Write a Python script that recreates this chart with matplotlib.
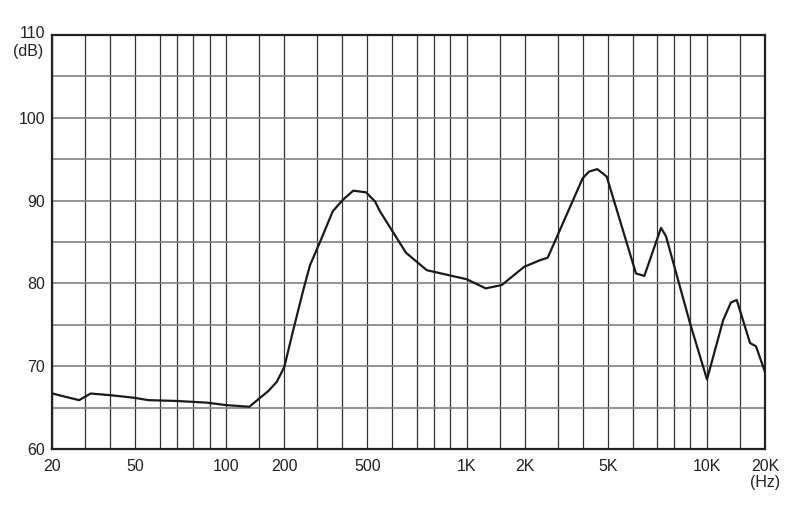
import numpy as np
import matplotlib as mpl
mpl.use('Agg')
import matplotlib.pyplot as plt
from matplotlib.transforms import ScaledTranslation

plt.rcParams['font.family'] = ['Liberation Sans', 'DejaVu Sans']

# response curve (Hz, dB)
freq = [20, 27.8, 31.9, 40, 49.1, 55.0, 70, 87.9, 100, 132.7, 150, 166.4,
        183.3, 200, 223.4, 252.6, 274.3, 309.5, 358.2, 402, 441.3, 494.2,
        529.3, 549.1, 654.8, 757.2, 1000, 1260, 1530, 1980, 2409, 2650, 4000,
        4231, 4557, 4956, 6125, 6453, 7207, 7495, 8980, 10000, 12190, 13390,
        14360, 16800, 18010, 20000]
level = [66.7, 65.9, 66.7, 66.5, 66.2, 65.9, 65.8, 65.6, 65.3, 65.1, 66.1, 67.0,
         68.1, 69.9, 74.4, 79.2, 82.2, 85.0, 88.7, 90.1, 91.2, 91.0,
         89.9, 88.7, 83.7, 81.6, 80.5, 79.4, 79.8, 82.0, 82.8, 83.1, 92.7,
         93.5, 93.8, 92.9, 81.2, 80.9, 86.7, 85.7, 75.2, 68.4, 75.6, 77.7,
         78.0, 72.8, 72.4, 69.3]

# the printed chart uses its own (not strictly logarithmic) grid spacing
grid_f = [20, 30, 40, 50, 60, 70, 80, 90, 100, 150, 200,
          300, 400, 500, 600, 700, 800, 900, 1000, 1500, 2000,
          3000, 4000, 5000, 6000, 7000, 8000, 9000, 10000, 15000, 20000]
grid_px = [52.3, 85.3, 110.3, 135.3, 160.3, 176.7, 193.3, 210, 226.3, 259.3, 284.3,
           317.3, 342.3, 367.3, 392, 416.7, 433.7, 450.3, 466.7, 500, 525,
           557.7, 582.7, 607.7, 632.7, 657.3, 674.3, 690.3, 707, 740.3, 765]
x_labels = {20: '20', 50: '50', 100: '100', 200: '200', 500: '500',
            1000: '1K', 2000: '2K', 5000: '5K', 10000: '10K', 20000: '20K'}

lf = np.log10(grid_f)
pos = np.array(grid_px)


def fwd(f):
    f = np.clip(np.asarray(f, dtype=float), 1e-3, None)
    return np.interp(np.log10(f), lf, pos)


def inv(p):
    return 10 ** np.interp(p, pos, lf)


fig = plt.figure(figsize=(8.12, 5.08), dpi=100)
ax = fig.add_axes([52.3 / 812, 1 - 449 / 508, (765 - 52.3) / 812, (449 - 35) / 508])
ax.set_xscale('function', functions=(fwd, inv))
ax.set_xlim(20, 20000)
ax.set_ylim(60, 110)

fs = 11.5
ax.set_xticks(grid_f)
ax.set_xticklabels([x_labels.get(f, '') for f in grid_f])
ax.xaxis.set_minor_locator(mpl.ticker.NullLocator())
ax.set_yticks(np.arange(60, 111, 5))
ax.set_yticklabels([str(v) if v % 10 == 0 else '' for v in range(60, 111, 5)])
ax.tick_params(length=0, labelsize=fs, colors='#222222')
ax.tick_params(axis='x', pad=7)
ax.tick_params(axis='y', pad=5)

# the top label sits a little above the frame
top = ax.get_yticklabels()[-1]
top.set_transform(top.get_transform() + ScaledTranslation(0, 0.035, fig.dpi_scale_trans))

for f in grid_f:
    ax.axvline(f, color='#333333', lw=0.9, zorder=1)
for v in range(65, 110, 5):
    ax.axhline(v, color='#808080', lw=1.2, zorder=1)

for s in ax.spines.values():
    s.set_linewidth(1.6)
    s.set_color('#222222')

ax.plot(freq, level, color='#1a1a1a', lw=1.6, zorder=3)

ax.text(-0.013, 0.96, '(dB)', transform=ax.transAxes, ha='right', va='center',
        fontsize=fs, color='#222222')
ax.text(20000, -0.082, '(Hz)', transform=ax.get_xaxis_transform(), ha='center',
        va='center', fontsize=fs, color='#222222')

fig.savefig('out.png', dpi=100)
